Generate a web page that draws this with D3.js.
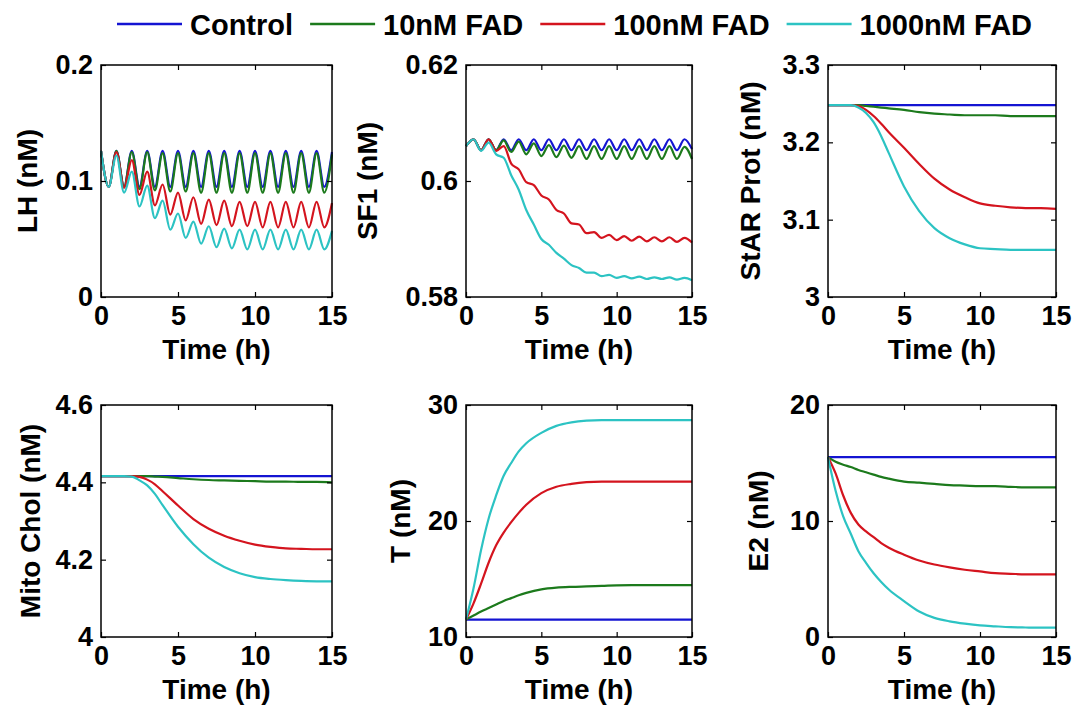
<!DOCTYPE html>
<html>
<head>
<meta charset="utf-8">
<script src="https://cdn.jsdelivr.net/npm/d3@7"></script>
<style>
    body { margin: 0; background: #fff; }
    svg { font-family: "Liberation Sans", Arial, sans-serif; font-weight: bold; }
</style>
</head>
<body>
<svg id="chart" width="1076" height="710"></svg>
<script>
// ---- data ----
const seriesNames = ["Control", "10nM FAD", "100nM FAD", "1000nM FAD"];
const seriesColors = ["#1414d2", "#1c7a1c", "#d4141e", "#2cc3c3"];

// half-hour grid for the oscillating panels (LH, SF1)
const timeOsc = [0, 0.5, 1, 1.5, 2, 2.5, 3, 3.5, 4, 4.5, 5, 5.5, 6, 6.5, 7, 7.5,
    8, 8.5, 9, 9.5, 10, 10.5, 11, 11.5, 12, 12.5, 13, 13.5, 14, 14.5, 15];
// coarser grid for the smooth panels
const timeSmooth = [0, 0.5, 1, 1.5, 2, 2.5, 3, 3.5, 4, 5, 6, 7, 8, 9, 10, 11, 12, 13, 14, 15];

const lhControl = [0.126, 0.095, 0.126, 0.095, 0.126, 0.095, 0.126, 0.095, 0.126, 0.095, 0.126, 0.095, 0.126, 0.095, 0.126, 0.095,
    0.126, 0.095, 0.126, 0.095, 0.126, 0.095, 0.126, 0.095, 0.126, 0.095, 0.126, 0.095, 0.126, 0.095, 0.125];
const lh10 = [0.126, 0.095, 0.126, 0.095, 0.125, 0.093, 0.125, 0.092, 0.124, 0.091, 0.124, 0.091, 0.124, 0.090, 0.124, 0.090,
    0.124, 0.090, 0.124, 0.090, 0.124, 0.090, 0.124, 0.090, 0.124, 0.090, 0.124, 0.090, 0.124, 0.090, 0.123];
const lh100 = [0.126, 0.095, 0.125, 0.094, 0.118, 0.088, 0.108, 0.079, 0.097, 0.071, 0.090, 0.066, 0.086, 0.063, 0.084, 0.062,
    0.083, 0.061, 0.082, 0.061, 0.082, 0.060, 0.082, 0.060, 0.082, 0.060, 0.082, 0.060, 0.082, 0.060, 0.081];
const lh1000 = [0.126, 0.095, 0.122, 0.090, 0.108, 0.078, 0.096, 0.068, 0.083, 0.058, 0.072, 0.051, 0.065, 0.046, 0.061, 0.043,
    0.059, 0.042, 0.058, 0.041, 0.058, 0.041, 0.058, 0.041, 0.058, 0.041, 0.058, 0.041, 0.058, 0.041, 0.057];

const sf1Control = [0.6060, 0.6072, 0.6053, 0.6072, 0.6053, 0.6072, 0.6053, 0.6072, 0.6053, 0.6072, 0.6053, 0.6072, 0.6053, 0.6072, 0.6053, 0.6072,
    0.6053, 0.6072, 0.6053, 0.6072, 0.6053, 0.6072, 0.6053, 0.6072, 0.6053, 0.6072, 0.6053, 0.6072, 0.6053, 0.6072, 0.6055];
const sf1_10 = [0.6060, 0.6072, 0.6053, 0.6072, 0.6053, 0.6070, 0.6050, 0.6068, 0.6046, 0.6065, 0.6043, 0.6062, 0.6041, 0.6061, 0.6040, 0.6060,
    0.6038, 0.6060, 0.6038, 0.6060, 0.6038, 0.6060, 0.6038, 0.6060, 0.6038, 0.6060, 0.6038, 0.6060, 0.6038, 0.6059, 0.6038];
const sf1_100 = [0.6060, 0.6072, 0.6053, 0.6072, 0.6052, 0.6060, 0.6030, 0.6020, 0.5998, 0.5993, 0.5975, 0.5968, 0.5950, 0.5944, 0.5927, 0.5925,
    0.5910, 0.5912, 0.5902, 0.5907, 0.5898, 0.5905, 0.5897, 0.5904, 0.5896, 0.5903, 0.5896, 0.5903, 0.5895, 0.5902, 0.5894];
const sf1_1000 = [0.6060, 0.6072, 0.6052, 0.6066, 0.6046, 0.6040, 0.6010, 0.5985, 0.5950, 0.5925, 0.5900, 0.5890, 0.5876, 0.5866, 0.5855, 0.5850,
    0.5842, 0.5842, 0.5836, 0.5838, 0.5833, 0.5836, 0.5832, 0.5835, 0.5831, 0.5834, 0.5831, 0.5834, 0.5830, 0.5833, 0.5829];

const starControl = [3.248, 3.248, 3.248, 3.248, 3.248, 3.248, 3.248, 3.248, 3.248, 3.248, 3.248, 3.248, 3.248, 3.248, 3.248, 3.248, 3.248, 3.248, 3.248, 3.248];
const star10 = [3.248, 3.248, 3.248, 3.248, 3.248, 3.247, 3.246, 3.245, 3.244, 3.242, 3.239, 3.237, 3.236, 3.235, 3.235, 3.235, 3.234, 3.234, 3.234, 3.234];
const star100 = [3.248, 3.248, 3.248, 3.248, 3.247, 3.242, 3.234, 3.224, 3.213, 3.193, 3.172, 3.153, 3.139, 3.129, 3.121, 3.118, 3.116, 3.115, 3.115, 3.114];
const star1000 = [3.248, 3.248, 3.248, 3.248, 3.245, 3.238, 3.226, 3.208, 3.186, 3.143, 3.111, 3.089, 3.076, 3.068, 3.063, 3.062, 3.061, 3.061, 3.061, 3.061];

const mitoControl = [4.416, 4.416, 4.416, 4.416, 4.416, 4.416, 4.416, 4.416, 4.416, 4.416, 4.416, 4.416, 4.416, 4.416, 4.416, 4.416, 4.416, 4.416, 4.416, 4.416];
const mito10 = [4.416, 4.416, 4.416, 4.416, 4.416, 4.416, 4.416, 4.415, 4.414, 4.411, 4.408, 4.406, 4.405, 4.404, 4.403, 4.402, 4.402, 4.401, 4.401, 4.400];
const mito100 = [4.416, 4.416, 4.416, 4.416, 4.416, 4.414, 4.407, 4.395, 4.377, 4.340, 4.305, 4.280, 4.262, 4.249, 4.239, 4.233, 4.229, 4.228, 4.227, 4.227];
const mito1000 = [4.416, 4.416, 4.416, 4.416, 4.415, 4.405, 4.392, 4.370, 4.341, 4.285, 4.240, 4.205, 4.181, 4.165, 4.155, 4.150, 4.147, 4.145, 4.144, 4.144];

const tControl = [11.5, 11.5, 11.5, 11.5, 11.5, 11.5, 11.5, 11.5, 11.5, 11.5, 11.5, 11.5, 11.5, 11.5, 11.5, 11.5, 11.5, 11.5, 11.5, 11.5];
const t10 = [11.5, 11.85, 12.2, 12.5, 12.8, 13.1, 13.35, 13.6, 13.8, 14.1, 14.25, 14.32, 14.36, 14.4, 14.45, 14.47, 14.47, 14.47, 14.47, 14.47];
const t100 = [11.5, 12.9, 14.6, 16.4, 17.9, 19.0, 19.9, 20.7, 21.4, 22.4, 22.95, 23.2, 23.35, 23.4, 23.4, 23.4, 23.4, 23.4, 23.4, 23.4];
const t1000 = [11.5, 14.2, 17.5, 20.2, 22.2, 23.9, 25.0, 26.0, 26.7, 27.6, 28.2, 28.5, 28.65, 28.7, 28.7, 28.7, 28.7, 28.7, 28.7, 28.7];

const e2Control = [15.5, 15.5, 15.5, 15.5, 15.5, 15.5, 15.5, 15.5, 15.5, 15.5, 15.5, 15.5, 15.5, 15.5, 15.5, 15.5, 15.5, 15.5, 15.5, 15.5];
const e2_10 = [15.5, 15.1, 14.85, 14.65, 14.4, 14.2, 14.0, 13.8, 13.65, 13.4, 13.3, 13.2, 13.1, 13.05, 13.0, 13.0, 12.95, 12.9, 12.9, 12.9];
const e2_100 = [15.5, 14.1, 12.2, 10.7, 9.7, 9.1, 8.6, 8.1, 7.7, 7.1, 6.6, 6.25, 6.0, 5.8, 5.65, 5.5, 5.45, 5.4, 5.4, 5.4];
const e2_1000 = [15.5, 12.6, 10.4, 8.9, 7.4, 6.4, 5.5, 4.75, 4.1, 3.1, 2.2, 1.65, 1.35, 1.15, 1.0, 0.92, 0.85, 0.82, 0.8, 0.8];

const xTicks = [0, 5, 10, 15];

const panels = [
    { ylabel: "LH (nM)", time: timeOsc, yDomain: [0, 0.2], yTicks: [0, 0.1, 0.2], series: [lhControl, lh10, lh100, lh1000] },
    { ylabel: "SF1 (nM)", time: timeOsc, yDomain: [0.58, 0.62], yTicks: [0.58, 0.6, 0.62], series: [sf1Control, sf1_10, sf1_100, sf1_1000] },
    { ylabel: "StAR Prot (nM)", time: timeSmooth, yDomain: [3, 3.3], yTicks: [3, 3.1, 3.2, 3.3], series: [starControl, star10, star100, star1000] },
    { ylabel: "Mito Chol (nM)", time: timeSmooth, yDomain: [4, 4.6], yTicks: [4, 4.2, 4.4, 4.6], series: [mitoControl, mito10, mito100, mito1000] },
    { ylabel: "T (nM)", time: timeSmooth, yDomain: [10, 30], yTicks: [10, 20, 30], series: [tControl, t10, t100, t1000] },
    { ylabel: "E2 (nM)", time: timeSmooth, yDomain: [0, 20], yTicks: [0, 10, 20], series: [e2Control, e2_10, e2_100, e2_1000] }
];

// ---- layout ----
const colLeft = [101, 466, 828];
const colWidth = [231, 226, 228];
const rowTop = [65, 405];
const rowHeight = 232;
const ylabelOffset = [64, 89, 68, 61, 56, 60]; // distance of y-label baseline from the left edge of the box

const svg = d3.select("#chart");

panels.forEach((p, i) => {
    const col = i % 3, row = Math.floor(i / 3);
    const w = colWidth[col], h = rowHeight;
    const g = svg.append("g").attr("transform", `translate(${colLeft[col]},${rowTop[row]})`);

    const x = d3.scaleLinear().domain([0, 15]).range([0, w]);
    const y = d3.scaleLinear().domain(p.yDomain).range([h, 0]);

    // lines (control first so the higher doses sit on top)
    const line = d3.line()
        .x((d, k) => x(p.time[k]))
        .y(d => y(d))
        .curve(d3.curveMonotoneX);

    p.series.forEach((vals, s) => {
        g.append("path")
            .attr("d", line(vals))
            .attr("fill", "none")
            .attr("stroke", seriesColors[s])
            .attr("stroke-width", 2.2)
            .attr("stroke-linejoin", "round");
    });

    // inward ticks on all four sides, labels left / bottom only
    const tickLen = 5;
    const bottom = g.append("g").attr("transform", `translate(0,${h})`)
        .call(d3.axisBottom(x).tickValues(xTicks).tickSizeInner(-tickLen).tickSizeOuter(0).tickPadding(9).tickFormat(d => String(d)));
    g.append("g")
        .call(d3.axisTop(x).tickValues(xTicks).tickSizeInner(-tickLen).tickSizeOuter(0).tickFormat(""));
    const left = g.append("g")
        .call(d3.axisLeft(y).tickValues(p.yTicks).tickSizeInner(-tickLen).tickSizeOuter(0).tickPadding(8).tickFormat(d => String(d)));
    g.append("g").attr("transform", `translate(${w},0)`)
        .call(d3.axisRight(y).tickValues(p.yTicks).tickSizeInner(-tickLen).tickSizeOuter(0).tickFormat(""));

    g.selectAll(".domain").remove();
    g.selectAll(".tick line").attr("stroke", "#000").attr("stroke-width", 1.2);
    bottom.selectAll("text").attr("font-size", 27).attr("font-family", null).attr("fill", "#000").attr("dy", "0.72em");
    left.selectAll("text").attr("font-size", 27).attr("font-family", null).attr("fill", "#000");

    g.append("rect")
        .attr("width", w).attr("height", h)
        .attr("fill", "none").attr("stroke", "#000").attr("stroke-width", 1.5);

    g.append("text")
        .attr("x", w / 2).attr("y", h + 62)
        .attr("text-anchor", "middle")
        .attr("font-size", 28)
        .text("Time (h)");

    g.append("text")
        .attr("transform", `translate(${-ylabelOffset[i]},${h / 2}) rotate(-90)`)
        .attr("text-anchor", "middle")
        .attr("font-size", 28)
        .text(p.ylabel);
});

// ---- legend across the top ----
const legend = svg.append("g").attr("transform", "translate(117,24)");
let lx = 0;
seriesNames.forEach((name, s) => {
    legend.append("line")
        .attr("x1", lx).attr("x2", lx + 65)
        .attr("y1", 0).attr("y2", 0)
        .attr("stroke", seriesColors[s]).attr("stroke-width", 2.5);
    const t = legend.append("text")
        .attr("x", lx + 73).attr("y", 11)
        .attr("font-size", 29)
        .text(name);
    lx += 73 + t.node().getComputedTextLength() + 17;
});
</script>
</body>
</html>
